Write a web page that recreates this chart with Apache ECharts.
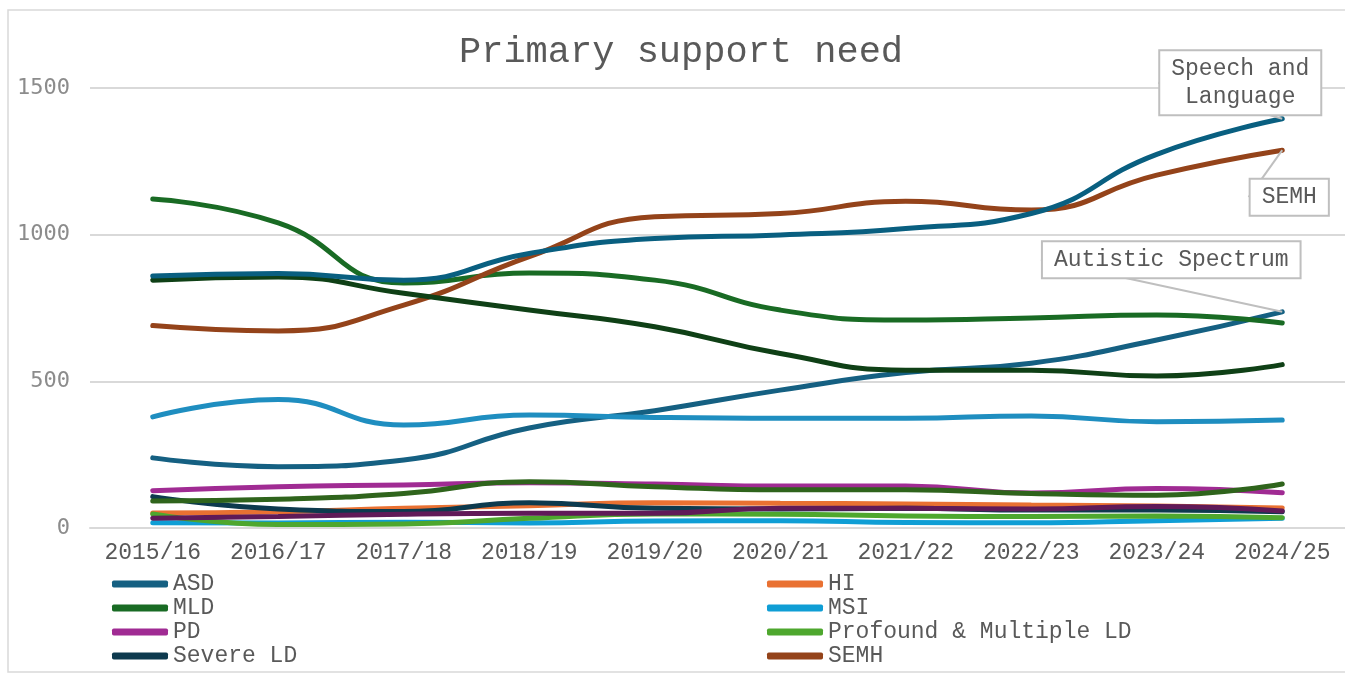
<!DOCTYPE html>
<html>
<head>
<meta charset="utf-8">
<script src="https://cdn.jsdelivr.net/npm/echarts@6/dist/echarts.min.js"></script>
<style>
  html, body { margin: 0; padding: 0; background: #fff; }
  #chart { width: 1345px; height: 675px; }
</style>
</head>
<body>
<div id="chart"></div>
<script>
// 学年
const years = ['2015/16', '2016/17', '2017/18', '2018/19', '2019/20', '2020/21', '2021/22', '2022/23', '2023/24', '2024/25']
const yTicks = [0, 500, 1000, 1500]

// 各类需求人数
const asd = [239, 209, 232, 341, 400, 470, 530, 562, 641, 737]
const hi = [51, 55, 67, 76, 86, 84, 82, 78, 75, 68]
const mld = [1122, 1040, 835, 869, 845, 743, 709, 716, 726, 699]
const msi = [18, 17, 20, 17, 24, 25, 19, 18, 25, 33]
const pd = [127, 141, 147, 154, 150, 143, 143, 119, 135, 120]
const pmld = [48, 12, 14, 33, 48, 47, 41, 39, 41, 35]
const severeLd = [107, 65, 56, 86, 67, 65, 67, 61, 61, 55]
const semh = [690, 672, 760, 925, 1061, 1072, 1114, 1084, 1203, 1288]
const spld = [845, 856, 800, 743, 686, 595, 538, 538, 518, 557]
const slcn = [859, 868, 845, 936, 987, 999, 1021, 1072, 1274, 1395]
const vi = [33, 39, 47, 50, 50, 67, 67, 65, 73, 58]
const other = [92, 98, 118, 158, 141, 130, 130, 118, 112, 150]
const nsa = [379, 438, 351, 385, 377, 374, 374, 382, 362, 368]

// 图例只显示前 8 项（两列）
const legendLeftCol = ['ASD', 'MLD', 'PD', 'Severe LD']
const legendRightCol = ['HI', 'MSI', 'Profound & Multiple LD', 'SEMH']

const mono = 'Liberation Mono'

const seriesList = [
  { name: 'ASD', data: asd, color: '#156082', callout: 'Autistic Spectrum', dx: -111, dy: -52 },
  { name: 'HI', data: hi, color: '#E97132' },
  { name: 'MLD', data: mld, color: '#196B24' },
  { name: 'MSI', data: msi, color: '#0F9ED5' },
  { name: 'PD', data: pd, color: '#A02B93' },
  { name: 'Profound & Multiple LD', data: pmld, color: '#4EA72E' },
  { name: 'Severe LD', data: severeLd, color: '#0D3A4E' },
  { name: 'SEMH', data: semh, color: '#94431A', callout: 'SEMH', dx: 7, dy: 47 },
  { name: 'SpLD', data: spld, color: '#0F4016' },
  { name: 'SLCN', data: slcn, color: '#095F80', callout: 'Speech and\nLanguage', dx: -42, dy: -36 },
  { name: 'VI', data: vi, color: '#601A58' },
  { name: 'Other', data: other, color: '#2F641C' },
  { name: 'NSA', data: nsa, color: '#1F8EC0' },
]

const series = seriesList.map((s) => {
  const item = {
    name: s.name,
    type: 'line',
    smooth: true,
    showSymbol: false,
    data: s.data,
    lineStyle: { width: 5, color: s.color, cap: 'round' },
    itemStyle: { color: s.color },
  }
  if (s.callout) {
    const last = s.data.length - 1
    item.showSymbol = true
    item.symbol = 'circle'
    item.symbolSize = 0
    item.data = s.data.map((v, i) => i === last
      ? {
        value: v,
        label: {
          show: true,
          position: 'inside',
          formatter: s.callout,
          fontFamily: mono,
          fontSize: 23,
          lineHeight: 28,
          color: '#595959',
          backgroundColor: '#fff',
          borderColor: '#bfbfbf',
          borderWidth: 2,
          padding: [4, 11, 3, 11],
          align: 'center',
        },
      }
      : v)
    item.labelLine = { show: true, lineStyle: { color: '#bfbfbf', width: 2 } }
    item.labelLayout = { dx: s.dx, dy: s.dy }
  }
  return item
})

// 每个图例项单独一个 legend，位置固定
const makeLegend = (name, left, row) => ({
  data: [name],
  left,
  top: 567 + row * 24,
  padding: 5,
  itemWidth: 56,
  itemHeight: 7,
  icon: 'roundRect',
  textStyle: { fontFamily: mono, fontSize: 23, color: '#595959', lineHeight: 24 },
})
const legends = [
  ...legendLeftCol.map((n, i) => makeLegend(n, 107, i)),
  ...legendRightCol.map((n, i) => makeLegend(n, 762, i)),
]

const option = {
  animation: false,
  backgroundColor: '#fff',
  title: {
    text: 'Primary support need',
    left: 454,
    top: 29,
    textStyle: { fontFamily: mono, fontSize: 37, fontWeight: 'normal', color: '#595959' },
  },
  grid: { left: 90, right: -3, top: 88, bottom: 147, containLabel: false },
  legend: legends,
  xAxis: {
    type: 'category',
    data: years,
    boundaryGap: true,
    axisTick: { show: false },
    axisLine: { lineStyle: { color: '#d9d9d9', width: 2 } },
    axisLabel: { fontFamily: mono, fontSize: 23, color: '#595959', margin: 13, interval: 0 },
  },
  yAxis: {
    type: 'value',
    min: yTicks[0],
    max: yTicks[yTicks.length - 1],
    interval: 500,
    axisLine: { show: false },
    axisTick: { show: false },
    splitLine: { lineStyle: { color: '#d9d9d9', width: 2 } },
    axisLabel: {
      fontFamily: 'DejaVu Sans Mono',
      fontSize: 22,
      color: '#8c8c8c',
      margin: 20,
      formatter: (v) => String(v),
    },
  },
  graphic: [
    {
      type: 'rect',
      shape: { x: 8, y: 10, width: 1345, height: 662 },
      style: { fill: 'none', stroke: '#d9d9d9', lineWidth: 1.5 },
      silent: true,
      z: -1,
    },
  ],
  series,
}

const myChart = echarts.init(document.getElementById('chart'))
myChart.setOption(option)
</script>
</body>
</html>
